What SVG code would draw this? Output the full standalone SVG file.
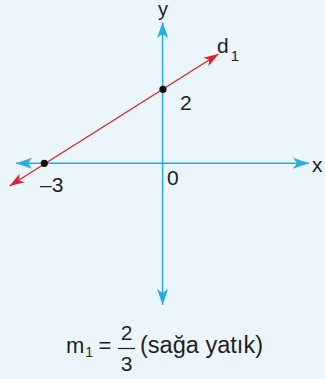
<svg xmlns="http://www.w3.org/2000/svg" width="325" height="379" viewBox="0 0 325 379">
<defs>
<style>
.axis{stroke:#29abe2;stroke-width:1.5;fill:none}
.line{stroke:#d7262f;stroke-width:1.3;fill:none}
.t{font-family:"Liberation Sans",Arial,sans-serif;fill:#231f20}
.dot{fill:#111}
</style>
<marker id="ab" markerUnits="userSpaceOnUse" markerWidth="20" markerHeight="14" viewBox="-17 -7 18 14" refX="0" refY="0" orient="auto-start-reverse">
<path d="M0,0 L-16,-5.5 L-12,0 L-16,5.5 Z" fill="#29abe2"/>
</marker>
<marker id="ar" markerUnits="userSpaceOnUse" markerWidth="20" markerHeight="14" viewBox="-17 -7 18 14" refX="0" refY="0" orient="auto-start-reverse">
<path d="M0,0 L-15,-5 L-11,0 L-15,5 Z" fill="#d7262f"/>
</marker>
</defs>
<rect width="325" height="379" fill="#eaf6fc"/>
<g id="connectors">
<line id="y-axis" class="axis" x1="162.6" y1="305" x2="162.6" y2="22" marker-start="url(#ab)" marker-end="url(#ab)"/>
<line id="x-axis" class="axis" x1="16" y1="163.3" x2="309" y2="163.3" marker-start="url(#ab)" marker-end="url(#ab)"/>
<line id="d1-line" class="line" x1="9.5" y1="186" x2="218.5" y2="54" marker-start="url(#ar)" marker-end="url(#ar)"/>
</g>
<g id="point-2">
<circle class="dot" cx="163" cy="89.3" r="3.6"/>
<text class="t" x="180" y="110" font-size="21">2</text>
</g>
<g id="point-minus3">
<circle class="dot" cx="44.3" cy="163.3" r="3.6"/>
<text class="t" x="40" y="192" font-size="21">–3</text>
</g>
<g id="label-y"><text class="t" x="163" y="16" font-size="20" text-anchor="middle">y</text></g>
<g id="label-x"><text class="t" x="312" y="172" font-size="21">x</text></g>
<g id="label-0"><text class="t" x="167" y="185" font-size="21">0</text></g>
<g id="label-d1"><text class="t" x="217" y="53" font-size="21">d<tspan font-size="15" dx="2" dy="8">1</tspan></text></g>
<g id="formula">
<text class="t" x="66" y="353" font-size="22">m<tspan font-size="14" dx="1" dy="4">1</tspan></text>
<text class="t" x="105" y="353" font-size="22" text-anchor="middle">=</text>
<text class="t" x="126.5" y="340" font-size="21" text-anchor="middle">2</text>
<line x1="118" y1="348.5" x2="135" y2="348.5" stroke="#231f20" stroke-width="1.2"/>
<text class="t" x="126.5" y="371" font-size="21" text-anchor="middle">3</text>
<text class="t" x="140" y="353" font-size="23" textLength="123" lengthAdjust="spacingAndGlyphs">(sağa yatık)</text>
</g>
</svg>
